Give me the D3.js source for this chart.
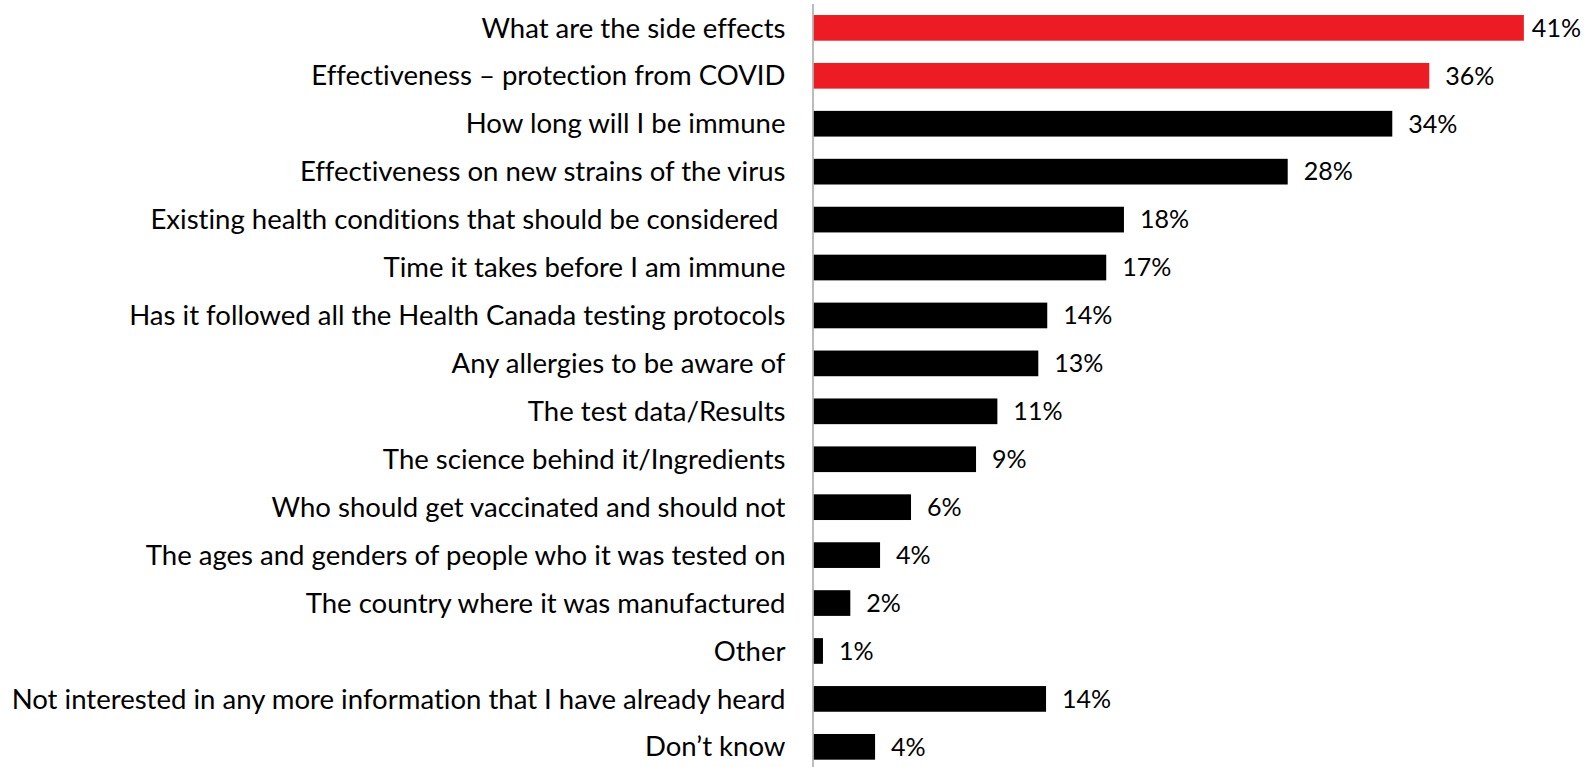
<!DOCTYPE html>
<html lang="en">
<head>
    <meta charset="UTF-8">
    <script src="https://cdnjs.cloudflare.com/ajax/libs/d3/7.8.5/d3.min.js"></script>
    <title>Information wanted about the vaccine</title>
    <style>
        html, body { margin: 0; padding: 0; background: #fff; }
        svg { display: block; }
        text { font-family: Lato, "Open Sans", sans-serif; fill: #000; white-space: pre; font-variant-ligatures: none; }
    </style>
</head>
<body>
    <svg width="1587" height="767"></svg>
    <script>
        // survey answers, top to bottom
        const categories = [
            "What are the side effects",
            "Effectiveness – protection from COVID",
            "How long will I be immune",
            "Effectiveness on new strains of the virus",
            "Existing health conditions that should be considered ",
            "Time it takes before I am immune",
            "Has it followed all the Health Canada testing protocols",
            "Any allergies to be aware of",
            "The test data/Results",
            "The science behind it/Ingredients",
            "Who should get vaccinated and should not",
            "The ages and genders of people who it was tested on",
            "The country where it was manufactured",
            "Other",
            "Not interested in any more information that I have already heard",
            "Don’t know"
        ]
        const values = [41.3, 35.8, 33.65, 27.57, 18.05, 17.02, 13.59, 13.07, 10.69, 9.45, 5.67, 3.87, 2.14, 0.55, 13.52, 3.58]
        const highlighted = ["What are the side effects", "Effectiveness – protection from COVID"]

        const width = 1587, height = 767
        const axisX = 813.5

        const svg = d3.select("svg")

        const x = d3.scaleLinear().domain([0, 45]).range([axisX, 1587.5])
        const y = d3.scaleBand().domain(categories).range([3.9, 770.8]).paddingInner(0.464).paddingOuter(0.232)

        // fit the label font so the longest label fills the space left of the axis
        const probe = svg.append("text").style("font-size", "100px").text(categories[14])
        const fontSize = 100 * 774 / probe.node().getComputedTextLength()
        probe.remove()

        svg.selectAll("rect.bar")
            .data(categories)
            .enter()
            .append("rect")
            .attr("class", "bar")
            .attr("x", x(0))
            .attr("y", d => y(d))
            .attr("width", (d, i) => x(values[i]) - x(0))
            .attr("height", y.bandwidth())
            .style("fill", d => highlighted.includes(d) ? "#ED1C24" : "#000")

        svg.append("line")
            .attr("x1", axisX - 0.5).attr("x2", axisX - 0.5)
            .attr("y1", y.range()[0]).attr("y2", height)
            .style("stroke", "#a6a6a6")
            .style("stroke-width", "1.5px")

        svg.selectAll("text.cat")
            .data(categories)
            .enter()
            .append("text")
            .attr("class", "cat")
            .attr("x", axisX - 28)
            .attr("y", d => y(d) + y.bandwidth() / 2)
            .attr("dy", "0.35em")
            .style("text-anchor", "end")
            .style("font-size", fontSize + "px")
            .text(d => d)

        svg.selectAll("text.val")
            .data(categories)
            .enter()
            .append("text")
            .attr("class", "val")
            .attr("y", d => y(d) + y.bandwidth() / 2)
            .attr("dy", "0.35em")
            .style("font-size", fontSize * 0.91 + "px")
            .text((d, i) => Math.round(values[i]) + "%")
            .attr("x", function (d, i) {
                const w = this.getComputedTextLength()
                const end = x(values[i])
                return Math.min(end + 16, Math.max(end + 8, width - 7 - w))
            })
    </script>
</body>
</html>
